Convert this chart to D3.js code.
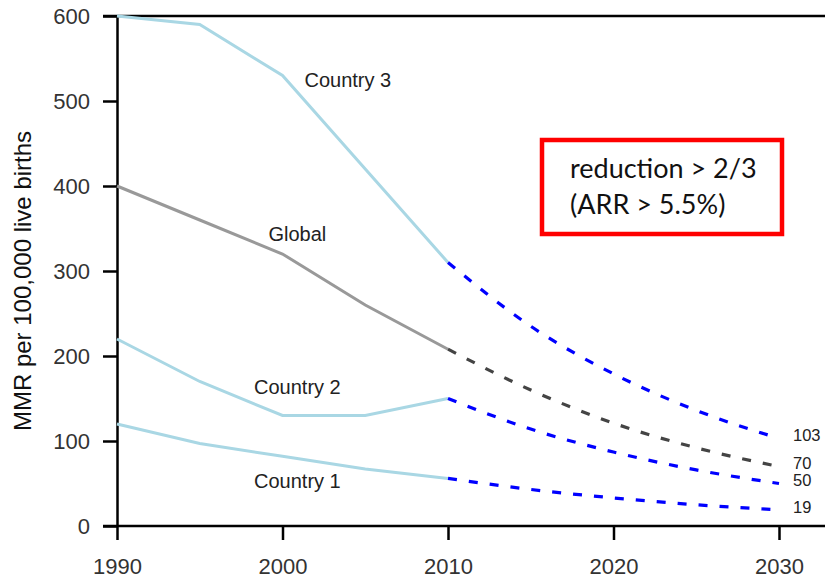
<!DOCTYPE html>
<html>
<head>
<meta charset="utf-8">
<script src="https://cdn.jsdelivr.net/npm/d3@7"></script>
<style>
  body { margin: 0; background: #fff; }
  svg { display: block; }
</style>
</head>
<body>
<svg id="chart" width="825" height="580"></svg>
<script>
// Maternal mortality ratio, observed 1990-2010 and projected 2010-2030
const yearsObserved = [1990, 1995, 2000, 2005, 2010];
const yearsProjected = [2010, 2015, 2020, 2025, 2030];

const country3Observed = [600, 590, 530, 420, 310];
const globalObserved = [400, 360, 320, 260, 208];
const country2Observed = [220, 170, 130, 130, 150];
const country1Observed = [120, 97, 82, 67, 56];

const country3Projected = [310, 235, 179, 136, 103];
const globalProjected = [208, 160, 121, 92, 70];
const country2Projected = [150, 114, 87, 66, 50];
const country1Projected = [56, 43, 33, 25, 19];

const xTicks = [1990, 2000, 2010, 2020, 2030];
const yTicks = [0, 100, 200, 300, 400, 500, 600];

const seriesLabels = [
  { text: "Country 3", year: 2003.95, value: 516 },
  { text: "Global", year: 2000.9, value: 335 },
  { text: "Country 2", year: 2000.9, value: 155 },
  { text: "Country 1", year: 2000.9, value: 45 }
];
const endLabels = [
  { text: "103", value: 103 },
  { text: "70", value: 70 },
  { text: "50", value: 50 },
  { text: "19", value: 19 }
];

const FONT = "Liberation Sans, Arial, sans-serif";
const svg = d3.select("#chart");
const x = d3.scaleLinear().domain([1990, 2030]).range([117, 779]);
const y = d3.scaleLinear().domain([0, 600]).range([526, 16]);

const line = d3.line().x(d => x(d[0])).y(d => y(d[1]));
const zip = (xs, vs) => xs.map((v, i) => [v, vs[i]]);

// frame line along the top, running to the right edge
svg.append("line").attr("x1", 103).attr("x2", 825).attr("y1", y(600)).attr("y2", y(600))
  .attr("stroke", "#000").attr("stroke-width", 2.5);

// axes
const xAxis = svg.append("g").attr("transform", `translate(0,${y(0)})`)
  .call(d3.axisBottom(x).tickValues(xTicks).tickFormat(d3.format("d")).tickSize(14).tickSizeOuter(0));
xAxis.select(".domain").attr("d", `M103,0H825`);
const yAxis = svg.append("g").attr("transform", `translate(${x(1990)},0)`)
  .call(d3.axisLeft(y).tickValues(yTicks).tickSize(14).tickSizeOuter(0));

[xAxis, yAxis].forEach(g => {
  g.select(".domain").attr("stroke", "#000").attr("stroke-width", 2.5);
  g.selectAll(".tick line").attr("stroke", "#000").attr("stroke-width", 2.5);
  g.selectAll(".tick text").attr("fill", "#333").style("font-family", FONT).style("font-size", "22px");
});
xAxis.selectAll(".tick text").attr("y", 48).attr("dy", null);
yAxis.selectAll(".tick text").attr("x", -27).attr("dy", "0.36em");

// y axis title
svg.append("text")
  .attr("transform", `translate(31,${y(300) + 10}) rotate(-90)`)
  .attr("text-anchor", "middle")
  .style("font-family", FONT)
  .style("font-size", "24px")
  .attr("fill", "#111")
  .text("MMR per 100,000 live births");

// observed series
const observed = [
  { v: country3Observed, c: "#a9d7e4" },
  { v: country2Observed, c: "#a9d7e4" },
  { v: country1Observed, c: "#a9d7e4" },
  { v: globalObserved, c: "#999999" }
];
observed.forEach(s => {
  svg.append("path").attr("d", line(zip(yearsObserved, s.v)))
    .attr("fill", "none").attr("stroke", s.c).attr("stroke-width", 3);
});

// projections
const curve = d3.line().curve(d3.curveMonotoneX).x(d => x(d[0])).y(d => y(d[1]));
const projected = [
  { v: country3Projected, c: "#0000ff" },
  { v: country2Projected, c: "#0000ff" },
  { v: country1Projected, c: "#0000ff" },
  { v: globalProjected, c: "#444444" }
];
projected.forEach(s => {
  svg.append("path").attr("d", curve(zip(yearsProjected, s.v)))
    .attr("fill", "none").attr("stroke", s.c).attr("stroke-width", 3.2)
    .attr("stroke-dasharray", "9,12");
});

// series labels
svg.selectAll(".slab").data(seriesLabels).enter().append("text")
  .attr("x", d => x(d.year)).attr("y", d => y(d.value))
  .attr("text-anchor", "middle")
  .style("font-family", FONT)
  .style("font-size", "20px").attr("fill", "#222")
  .text(d => d.text);

// end values, set slightly above their line ends
svg.selectAll(".elab").data(endLabels).enter().append("text")
  .attr("x", 793).attr("y", d => y(d.value) - 3).attr("dy", "0.35em")
  .style("font-family", FONT)
  .style("font-size", "16.5px").attr("fill", "#222")
  .text(d => d.text);

// annotation box
const box = svg.append("g");
box.append("rect").attr("x", 542).attr("y", 140).attr("width", 240).attr("height", 94)
  .attr("fill", "#fff").attr("stroke", "#ff0000").attr("stroke-width", 4.5);
box.append("text").attr("x", 570).attr("y", 178)
  .style("font-family", "Lato, Open Sans, sans-serif").style("font-size", "27px").attr("fill", "#111")
  .text("reduction > 2/3");
box.append("text").attr("x", 570).attr("y", 214)
  .style("font-family", "Lato, Open Sans, sans-serif").style("font-size", "27px").attr("fill", "#111")
  .text("(ARR > 5.5%)");
</script>
</body>
</html>
